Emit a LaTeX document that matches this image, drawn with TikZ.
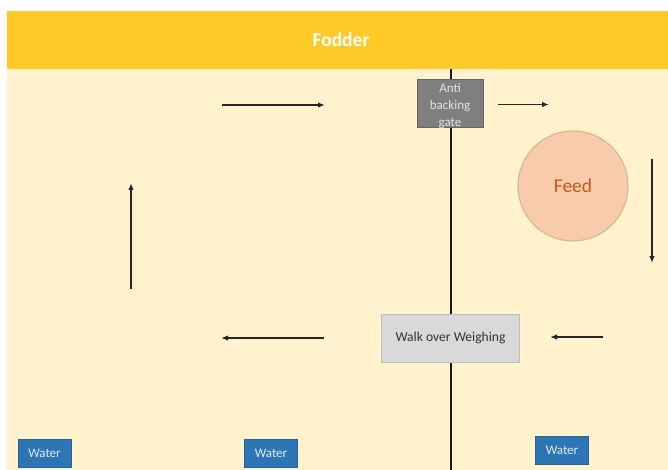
\documentclass[tikz,border=0pt]{standalone}
\usepackage{fontspec}
\setmainfont{Carlito}
\usetikzlibrary{arrows.meta}
\definecolor{bandyellow}{HTML}{FFCA28}
\definecolor{cream}{HTML}{FFF2CC}
\definecolor{gatefill}{HTML}{7F7F7F}
\definecolor{gatetext}{HTML}{E4E4E4}
\definecolor{walkfill}{HTML}{D9D9D9}
\definecolor{walkline}{HTML}{BFBFBF}
\definecolor{waterfill}{HTML}{2E75B6}
\definecolor{watertext}{HTML}{DEEBF7}
\definecolor{feedfill}{HTML}{F8CBAD}
\definecolor{feedline}{HTML}{D8B896}
\definecolor{feedtext}{HTML}{C55A11}
\tikzset{
  flowarrow/.style={line width=1.5pt,draw=black!85,-{Latex[length=7pt,width=5.5pt]}},
  divider/.style={line width=1.3pt,draw=black!90},
  gatebox/.style={rectangle,fill=gatefill,draw=gatefill!80!black,line width=0.4pt,
    minimum width=66pt,minimum height=48pt,inner sep=0pt},
  gatetextstyle/.style={align=center,text=gatetext,font=\fontsize{13}{17}\selectfont},
  walkbox/.style={rectangle,fill=walkfill,draw=walkline,line width=1pt,
    minimum width=138pt,minimum height=48pt,inner sep=0pt,
    text=black!80,font=\fontsize{13.6}{16}\selectfont},
  waterbox/.style={rectangle,fill=waterfill,draw=waterfill!85!black,line width=0.4pt,
    minimum width=53pt,minimum height=28pt,inner sep=0pt,
    text=watertext,font=\fontsize{13}{15}\selectfont},
  feedcircle/.style={circle,fill=feedfill,draw=feedline,line width=1.2pt,
    minimum size=110pt,inner sep=0pt,text=feedtext,font=\fontsize{19.5}{22}\selectfont},
  bandtext/.style={text=white,font=\fontsize{19.5}{22}\selectfont\bfseries}
}
\begin{document}
\begin{tikzpicture}[x=1pt,y=-1pt]
\useasboundingbox (0,0) rectangle (668,470);
\fill[white] (0,0) rectangle (668,470);
\fill[cream] (7,69) rectangle (668,470);
\fill[bandyellow] (7,11) rectangle (668,69);
\node[bandtext] (fodder) at (341,40) {Fodder};
% divider
\coordinate (divtop) at (451,69);
\coordinate (divbot) at (451,470);
\draw[divider] (divtop) -- (divbot);
% nodes
\node[gatebox,label={[gatetextstyle,yshift=-3pt]center:Anti\\backing\\gate}] (gate) at (450,103) {};
\node[walkbox] (walk) at (450.5,338) {\raisebox{-1.5pt}{Walk over Weighing}};
\node[feedcircle] (feed) at (573,186) {\raisebox{-1.5pt}{Feed}};
\node[waterbox] (water1) at (44.5,453) {Water};
\node[waterbox] (water2) at (271,453) {Water};
\node[waterbox] (water3) at (562,450.5) {Water};
% arrows
\coordinate (a1s) at (222,105); \coordinate (a1e) at (325,105);
\coordinate (a2s) at (498,104.5); \coordinate (a2e) at (549,104.5);
\coordinate (a3s) at (652,159); \coordinate (a3e) at (652,263);
\coordinate (a4s) at (603,337); \coordinate (a4e) at (550,337);
\coordinate (a5s) at (324,338); \coordinate (a5e) at (221,338);
\coordinate (a6s) at (131,289); \coordinate (a6e) at (131,183);
\draw[flowarrow] (a1s) -- (a1e);
\draw[flowarrow] (a2s) -- (a2e);
\draw[flowarrow] (a3s) -- (a3e);
\draw[flowarrow] (a4s) -- (a4e);
\draw[flowarrow] (a5s) -- (a5e);
\draw[flowarrow] (a6s) -- (a6e);
\end{tikzpicture}
\end{document}
